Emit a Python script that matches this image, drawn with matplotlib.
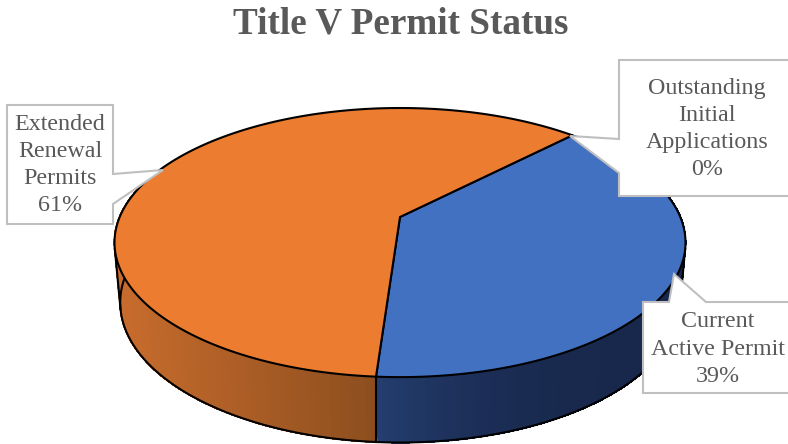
import numpy as np
import matplotlib
matplotlib.use("Agg")
import matplotlib.pyplot as plt
from matplotlib.patches import Polygon

# ---- data ----
categories = ["Current\nActive Permit", "Extended\nRenewal\nPermits", "Outstanding\nInitial\nApplications"]
values = [38.8, 61.2, 0]
title = "Title V Permit Status"

# ---- style ----
top_colors = ["#4371C2", "#EB7C30", "#A5A5A5"]
wall_near = [np.array([24, 40, 76]), np.array([200, 108, 45]), np.array([120, 120, 120])]
wall_far = [np.array([36, 62, 112]), np.array([140, 78, 30]), np.array([80, 80, 80])]
TEXT = "#595959"
BOX = "#BFBFBF"
FONT = "Liberation Serif"

# perspective projection of the pie's top face (pixel space)
CX, CY, A, B, K = 400.0, 217.0, 280.3, 129.7, 0.19
START = np.deg2rad(45.7)
MID_Y = 242.0


def top_rim(th):
    x, y = np.cos(th), np.sin(th)
    w = 1 + K * y
    return CX + A * x / w, CY - B * y / w


def low_rim(th):
    sx, sy = top_rim(th)
    return CX + 0.98 * (sx - CX), 302 + 1.04 * (sy - MID_Y)


fig = plt.figure(figsize=(7.88, 4.44), dpi=100)
ax = fig.add_axes([0, 0, 1, 1])
ax.set_xlim(0, 788)
ax.set_ylim(444, 0)
ax.axis("off")

fracs = np.array(values, dtype=float) / sum(values)
edges = START - 2 * np.pi * np.concatenate([[0], np.cumsum(fracs)])

# side wall, drawn as shaded strips
for i in range(len(values)):
    if fracs[i] == 0:
        continue
    n = int(max(8, fracs[i] * 360))
    ths = np.linspace(edges[i], edges[i + 1], n + 1)
    for j in range(n):
        a, b = ths[j], ths[j + 1]
        if np.sin((a + b) / 2) > 0.35:
            continue
        px = top_rim((a + b) / 2)[0]
        if i == 0:
            t = np.clip((686 - px) / (686 - 377), 0, 1) ** 3
        else:
            t = np.clip((px - 115) / (377 - 115), 0, 1)
        col = (wall_near[i] * (1 - t) + wall_far[i] * t) / 255
        p = [top_rim(a), top_rim(b), low_rim(b), low_rim(a)]
        ax.add_patch(Polygon(p, closed=True, fc=col, ec=col, lw=0.8, antialiased=False, zorder=2))

# lower rim and silhouette
ring = np.linspace(0, 2 * np.pi, 721)
lx, ly = low_rim(ring)
ax.plot(lx, ly, color="black", lw=1.5, zorder=3)
tx, ty = top_rim(ring)
for nx, ny in [(-45.0, 4.0), (57.0, 6.0)]:
    it = np.argmax(nx * tx + ny * ty)
    il = np.argmax(nx * lx + ny * ly)
    ax.plot([tx[it], lx[il]], [ty[it], ly[il]], color="black", lw=1.5, zorder=3)

# front divider on the wall
ex = edges[1]
ax.plot([top_rim(ex)[0], top_rim(ex)[0]], [top_rim(ex)[1], low_rim(ex)[1]], color="black", lw=1.5, zorder=3)

# top face
for i in range(len(values)):
    if fracs[i] == 0:
        continue
    ths = np.linspace(edges[i], edges[i + 1], 300)
    rx, ry = top_rim(ths)
    pts = np.column_stack([np.r_[CX, rx], np.r_[CY, ry]])
    ax.add_patch(Polygon(pts, closed=True, fc=top_colors[i], ec="black", lw=1.5, joinstyle="round", zorder=4))

# callouts: outline including the leader wedge
callouts = [
    [(643, 302), (669, 302), (674, 274), (706, 302), (790, 302), (790, 393), (643, 393)],
    [(7, 105), (113, 105), (113, 174), (163, 170), (113, 204), (113, 224), (7, 224)],
    [(619, 60), (790, 60), (790, 196), (619, 196), (619, 173), (570, 136), (619, 139)],
]
for pts in callouts:
    ax.add_patch(Polygon(pts, closed=True, fc="white", ec=BOX, lw=1.5, zorder=5))

label_xy = [(718, 349), (60, 165), (707, 129)]
for name, v, (x, y) in zip(categories, values, label_xy):
    ax.text(x, y, f"{name}\n{v:.0f}%", ha="center", va="center", family=FONT, fontsize=17.3,
            color=TEXT, linespacing=1.39, zorder=6)

ax.text(401, 24, title, ha="center", va="center", family=FONT, fontsize=26.7,
        fontweight="bold", color=TEXT, zorder=6)

fig.savefig("out.png", dpi=100)
